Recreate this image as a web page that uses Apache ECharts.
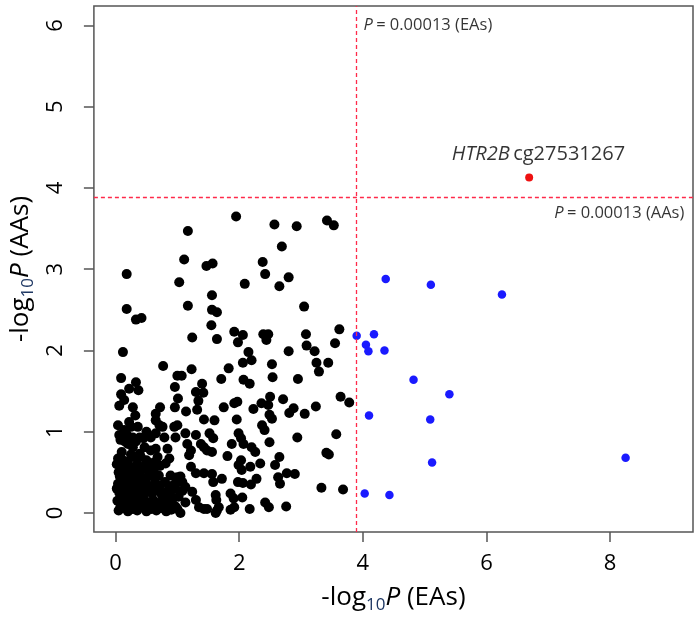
<!DOCTYPE html>
<html>
<head>
<meta charset="utf-8">
<script src="https://cdn.jsdelivr.net/npm/echarts@6/dist/echarts.min.js"></script>
<style>html,body{margin:0;padding:0;background:#fff}#chart{width:700px;height:621px}</style>
</head>
<body>
<div id="chart"></div>
<script>
// threshold: -log10(0.00013)
const threshold = 3.886;
const xTicks = [0, 2, 4, 6, 8];
const yTicks = [0, 1, 2, 3, 4, 5, 6];

const redPoint = [[6.69, 4.13]];

const bluePoints = [
  [4.37, 2.88], [5.10, 2.81], [6.25, 2.69], [3.90, 2.18], [4.18, 2.20], [4.05, 2.07],
  [4.09, 1.99], [4.35, 2.00], [4.82, 1.64], [5.40, 1.46], [4.10, 1.20], [5.09, 1.15],
  [8.25, 0.68], [5.12, 0.62], [4.03, 0.24], [4.43, 0.22]
];

const blackPointsUpper = [
  [0.18,2.94],[1.17,3.47],[1.11,3.12],[1.03,2.84],[1.47,3.04],[1.57,3.07],[1.56,2.68],[1.95,3.65],
  [2.09,2.82],[2.38,3.09],[2.42,2.94],[2.57,3.55],[2.69,3.28],[2.65,2.79],[2.80,2.90],[2.93,3.53],
  [3.42,3.60],[3.53,3.54],[0.18,2.51],[0.33,2.38],[0.42,2.40],[1.17,2.55],[1.56,2.50],[1.64,2.47],
  [3.05,2.54],[1.55,2.31],[1.24,2.16],[1.64,2.14],[1.92,2.23],[2.06,2.19],[1.98,2.10],[2.39,2.20],
  [2.47,2.20],[2.44,2.13],[3.08,2.20],[3.09,2.06],[3.62,2.26],[3.55,2.09],[0.12,1.98],[2.15,1.98],
  [2.20,1.88],[2.06,1.85],[2.80,1.99],[3.22,1.99],[3.25,1.85],[3.29,1.74],[3.44,1.85],[2.53,1.83],
  [0.77,1.81],[1.23,1.77],[1.83,1.78]
];

const blackPointsMiddle = [
  [0.09,1.66],[1.00,1.69],[1.07,1.69],[0.96,1.55],[1.71,1.65],[2.07,1.64],[2.17,1.59],[2.54,1.67],
  [2.95,1.65],[0.33,1.61],[0.37,1.51],[0.22,1.53],[0.09,1.46],[0.14,1.39],[0.06,1.32],[1.40,1.59],
  [1.30,1.49],[1.42,1.48],[1.01,1.41],[1.34,1.38],[1.32,1.27],[0.72,1.30],[0.65,1.22],[0.28,1.30],
  [0.32,1.20],[0.96,1.30],[1.14,1.25],[1.75,1.30],[1.92,1.35],[1.97,1.37],[2.23,1.28],[2.36,1.35],
  [2.47,1.33],[2.50,1.43],[2.71,1.40],[2.88,1.29],[2.81,1.23],[3.24,1.31],[3.06,1.22],[3.64,1.43],
  [3.78,1.36],[2.49,1.21],[2.53,1.16],[1.43,1.15],[1.60,1.14],[1.96,1.15],[2.37,1.08],[2.41,1.02],
  [0.04,1.08],[0.06,0.96],[0.14,1.02],[0.22,1.12],[0.25,1.06],[0.36,1.06],[0.39,0.93],[0.28,0.93],
  [0.65,1.14],[0.71,1.08],[0.76,1.06],[0.79,0.93],[0.65,0.98],[0.57,0.93],[0.95,1.06],[1.00,1.08],
  [0.97,0.93],[1.13,0.98],[1.30,0.96],[1.52,0.98],[1.58,0.92],[1.99,0.98],[2.03,0.92],[2.07,0.85],
  [1.88,0.85],[2.49,0.87],[2.94,0.93],[3.57,0.97],[2.20,0.81],[2.26,0.75],[1.38,0.85],[1.43,0.81],
  [1.48,0.77],[1.56,0.75],[1.16,0.85],[1.22,0.77],[1.19,0.71]
];

const blackPointsLower = [
  [0.28,0.81],[0.39,0.73],[0.47,0.81],[0.41,0.69],[0.84,0.79],[0.87,0.67],[0.81,0.61],[0.57,0.77],
  [0.65,0.79],[0.68,0.69],[3.41,0.74],[3.45,0.72],[2.65,0.69],[1.81,0.70],[2.03,0.65],[1.99,0.59],
  [2.04,0.53],[2.34,0.61],[2.58,0.59],[2.63,0.44],[2.66,0.36],[2.18,0.57],[1.22,0.57],[0.04,0.67],
  [0.12,0.65],[0.20,0.63],[0.30,0.69],[2.77,0.49],[2.90,0.48],[2.28,0.42],[1.98,0.38],[2.06,0.37],
  [2.19,0.35],[1.30,0.49],[1.43,0.49],[1.56,0.48],[1.72,0.42],[1.58,0.38],[0.89,0.46],[1.00,0.44],
  [1.08,0.38],[1.13,0.32],[0.97,0.30],[3.33,0.31],[3.68,0.29],[1.86,0.24],[1.91,0.18],[2.05,0.19],
  [1.62,0.22],[1.63,0.16],[1.24,0.26],[1.30,0.16],[1.13,0.13],[2.42,0.13],[2.48,0.07],[2.76,0.08],
  [2.17,0.05],[1.35,0.07],[1.43,0.05],[1.48,0.05],[1.64,0.03],[1.62,0.00],[1.67,0.07],[1.86,0.04],
  [1.92,0.07],[1.05,0.00],[1.00,0.05],
  [0.10,0.75],[0.20,0.85],[0.50,0.65],[0.55,0.60],[0.35,0.60],[0.25,0.72],[0.08,0.90],[0.15,0.88],
  [0.45,0.92],[0.50,1.00],[0.62,0.62],[0.72,0.58],[0.33,0.88],[0.18,0.97]
];

const blackPointsCore = [
  [0.05,0.03],[0.12,0.06],[0.20,0.02],[0.28,0.05],[0.35,0.03],[0.42,0.07],[0.50,0.02],[0.58,0.05],
  [0.66,0.03],[0.74,0.06],[0.82,0.02],[0.90,0.04],[0.97,0.08],
  [0.03,0.15],[0.10,0.12],[0.17,0.17],[0.24,0.13],[0.31,0.16],[0.38,0.12],[0.46,0.17],[0.53,0.13],
  [0.61,0.16],[0.69,0.12],[0.77,0.17],[0.86,0.14],[0.93,0.18],
  [0.06,0.25],[0.13,0.22],[0.21,0.27],[0.29,0.23],[0.36,0.28],[0.44,0.22],[0.51,0.26],[0.59,0.24],
  [0.67,0.28],[0.75,0.22],[0.84,0.27],[0.02,0.30],
  [0.04,0.36],[0.11,0.33],[0.19,0.37],[0.26,0.32],[0.34,0.36],[0.41,0.34],[0.49,0.38],[0.56,0.33],
  [0.64,0.37],[0.72,0.34],[0.80,0.38],[0.88,0.33],
  [0.07,0.45],[0.14,0.42],[0.22,0.47],[0.30,0.43],[0.39,0.46],[0.47,0.42],[0.54,0.47],[0.62,0.44],
  [0.70,0.46],[0.05,0.50],
  [0.09,0.55],[0.17,0.52],[0.25,0.56],[0.33,0.53],[0.45,0.57],[0.52,0.53],[0.60,0.56],[0.02,0.60],
  [0.15,0.60],[1.02,0.20],[1.08,0.27],[0.95,0.35],[1.05,0.45],
  [0.08,0.08],[0.24,0.09],[0.40,0.20],[0.56,0.10],[0.72,0.26],[0.16,0.30],[0.32,0.40],[0.48,0.30],
  [0.64,0.48],[0.40,0.52],[0.80,0.10],[0.88,0.24],[0.26,0.20]
];

const labelHTR = { pos: [6.84, 4.42], gene: 'HTR2B', probe: 'cg27531267' };
const labelEA = { pos: [4.01, 6.0], text: '0.00013 (EAs)' };
const labelAA = { pos: [9.20, 3.69], text: '0.00013 (AAs)' };

const blackPoints = blackPointsUpper.concat(blackPointsMiddle, blackPointsLower, blackPointsCore);

const FONT = 'Open Sans';
const LINE_RED = '#ff2a4a';
const titleRich = {
  n: { fontSize: 26, fontFamily: FONT, color: '#000', lineHeight: 32, verticalAlign: 'middle' },
  it: { fontSize: 26, fontFamily: FONT, fontStyle: 'italic', color: '#000', lineHeight: 32, verticalAlign: 'middle' },
  sub: { fontSize: 17, fontFamily: FONT, color: '#1f3864', lineHeight: 14, verticalAlign: 'bottom' }
};
const annRich = {
  n: { fontSize: 16.5, fontFamily: FONT, color: '#000' },
  it: { fontSize: 16.5, fontFamily: FONT, fontStyle: 'italic', color: '#000' }
};
const htrRich = {
  n: { fontSize: 20, fontFamily: FONT, color: '#000' },
  it: { fontSize: 20, fontFamily: FONT, fontStyle: 'italic', color: '#000' }
};

const chart = echarts.init(document.getElementById('chart'), null, { renderer: 'canvas' });
chart.setOption({
  animation: false,
  backgroundColor: '#fff',
  grid: { left: 89, right: 7, top: 6, bottom: 89, show: true, borderColor: '#555', borderWidth: 1.5, backgroundColor: 'transparent' },
  xAxis: {
    type: 'value', min: -0.35, max: 9.34,
    axisLine: { show: false, onZero: false },
    axisTick: { show: true, inside: false, length: 10, customValues: xTicks, lineStyle: { color: '#555', width: 1.5 } },
    axisLabel: { customValues: xTicks, fontSize: 22, fontFamily: FONT, color: '#000', margin: 21 },
    splitLine: { show: false },
    name: '-log{sub|10}{it|P} {n|(EAs)}',
    nameLocation: 'middle', nameGap: 50,
    nameTextStyle: { rich: titleRich, fontSize: 26, fontFamily: FONT, color: '#000' }
  },
  yAxis: {
    type: 'value', min: -0.234, max: 6.24,
    axisLine: { show: false, onZero: false },
    axisTick: { show: true, inside: false, length: 10, customValues: yTicks, lineStyle: { color: '#555', width: 1.5 } },
    axisLabel: { customValues: yTicks, fontSize: 22, fontFamily: FONT, color: '#000', rotate: 90, margin: 27 },
    splitLine: { show: false },
    name: '-log{sub|10}{it|P} {n|(AAs)}',
    nameLocation: 'middle', nameGap: 56, nameRotate: 90,
    nameTextStyle: { rich: titleRich, fontSize: 26, fontFamily: FONT, color: '#000' }
  },
  series: [
    {
      type: 'scatter', data: [], silent: true, z: 1,
      itemStyle: { color: LINE_RED },
      markLine: {
        silent: true, symbol: 'none', label: { show: false },
        itemStyle: { color: LINE_RED },
        lineStyle: { color: LINE_RED, opacity: 1, type: [4, 3], width: 1.3 },
        emphasis: { disabled: true },
        data: [{ xAxis: threshold }, { yAxis: threshold }]
      }
    },
    { type: 'scatter', data: blackPoints, symbolSize: 10, silent: true, itemStyle: { color: '#000', opacity: 1 }, z: 2 },
    { type: 'scatter', data: bluePoints, symbolSize: 8.5, silent: true, itemStyle: { color: '#1a1aff', opacity: 1 }, z: 3 },
    { type: 'scatter', data: redPoint, symbolSize: 8, silent: true, itemStyle: { color: '#ee1111', opacity: 1 }, z: 3 },
    {
      type: 'scatter', silent: true, symbolSize: 0, z: 4,
      data: [
        { value: labelHTR.pos, label: { show: true, position: 'inside', formatter: '{it|' + labelHTR.gene + '} {n|' + labelHTR.probe + '}', rich: htrRich } },
        { value: labelEA.pos, label: { show: true, position: 'right', distance: 0, formatter: '{it|P} {n|= ' + labelEA.text + '}', rich: annRich } },
        { value: labelAA.pos, label: { show: true, position: 'left', distance: 0, formatter: '{it|P} {n|= ' + labelAA.text + '}', rich: annRich } }
      ]
    }
  ]
});
</script>
</body>
</html>
